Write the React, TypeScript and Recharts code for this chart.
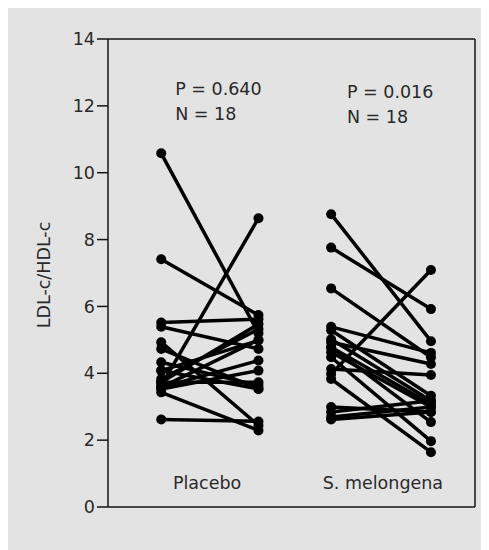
import React from 'react';
import { LineChart, Line, XAxis, YAxis, ReferenceLine, ReferenceDot } from 'recharts';

const groups = ['Placebo', 'S. melongena'];
const pValues = ['P = 0.640', 'P = 0.016'];
const nValues = ['N = 18', 'N = 18'];
const yTicks = [0, 2, 4, 6, 8, 10, 12, 14];

// x positions of the four columns (before/after for each group)
const columnX = [1.45, 4.1, 6.08, 8.8];

const placeboBefore = [10.58, 7.41, 5.52, 5.39, 4.93, 4.73, 4.33, 4.08, 3.83, 3.73, 3.63, 3.58, 3.53, 3.43, 2.62, 3.73, 4.08, 3.58];
const placeboAfter = [5.2, 5.74, 5.62, 4.73, 2.44, 3.53, 3.63, 4.98, 5.32, 5.47, 8.64, 4.38, 4.08, 2.29, 2.56, 3.73, 3.53, 5.0];

const melBefore = [8.76, 7.76, 6.54, 5.39, 5.29, 5.02, 4.93, 4.78, 4.63, 4.48, 4.13, 3.98, 3.83, 2.99, 2.84, 2.69, 2.62, 4.78];
const melAfter = [4.96, 5.92, 4.48, 4.61, 3.33, 3.18, 4.28, 3.08, 2.99, 1.97, 3.95, 7.09, 1.64, 2.84, 3.18, 2.99, 2.84, 2.54];

const FONT = '"DejaVu Sans", sans-serif';
const TXT = '#2a2a2a';

const pairs: { x: number; y: number }[][] = [];
placeboBefore.forEach((v, i) => pairs.push([{ x: columnX[0], y: v }, { x: columnX[1], y: placeboAfter[i] }]));
melBefore.forEach((v, i) => pairs.push([{ x: columnX[2], y: v }, { x: columnX[3], y: melAfter[i] }]));

const textShape = (label: string, anchor: string) => (p: any) => (
  <text x={p.cx} y={p.cy} textAnchor={anchor} fontFamily={FONT} fontSize={17.5} fill={TXT}>
    {label}
  </text>
);

export default function App() {
  return (
    <div style={{ width: 477, height: 542, background: '#e3e3e3' }}>
      <LineChart width={477} height={542} margin={{ top: 31, right: 10, bottom: 42, left: 0 }}>
        <XAxis
          type="number"
          dataKey="x"
          domain={[0, 10]}
          tick={false}
          tickLine={false}
          axisLine={{ stroke: '#151515', strokeWidth: 1.5 }}
          height={1}
          allowDuplicatedCategory={false}
        />
        <YAxis
          type="number"
          domain={[0, 14]}
          ticks={yTicks}
          interval={0}
          width={100}
          tickSize={11}
          axisLine={{ stroke: '#151515', strokeWidth: 1.5 }}
          tickLine={{ stroke: '#151515', strokeWidth: 1.5 }}
          tick={{ fontFamily: FONT, fontSize: 17.5, fill: TXT }}
          label={{
            content: () => (
              <text
                x={42}
                y={267}
                transform="rotate(-90, 42, 267)"
                textAnchor="middle"
                fontFamily={FONT}
                fontSize={17.5}
                fill={TXT}
              >
                LDL-c/HDL-c
              </text>
            ),
          }}
        />
        <ReferenceLine y={14} stroke="#151515" strokeWidth={1.5} />
        <ReferenceLine x={10} stroke="#151515" strokeWidth={1.5} />
        {pairs.map((d, i) => (
          <Line
            key={i}
            data={d}
            dataKey="y"
            type="linear"
            stroke="#000"
            strokeWidth={3.5}
            dot={{ r: 5, fill: '#000', stroke: '#000', strokeWidth: 0 }}
            isAnimationActive={false}
          />
        ))}
        <ReferenceDot x={1.83} y={12.33} r={0} shape={textShape(pValues[0], 'start')} />
        <ReferenceDot x={1.83} y={11.58} r={0} shape={textShape(nValues[0], 'start')} />
        <ReferenceDot x={6.51} y={12.25} r={0} shape={textShape(pValues[1], 'start')} />
        <ReferenceDot x={6.51} y={11.5} r={0} shape={textShape(nValues[1], 'start')} />
        <ReferenceDot x={2.7} y={0.55} r={0} shape={textShape(groups[0], 'middle')} />
        <ReferenceDot x={7.49} y={0.55} r={0} shape={textShape(groups[1], 'middle')} />
      </LineChart>
    </div>
  );
}
